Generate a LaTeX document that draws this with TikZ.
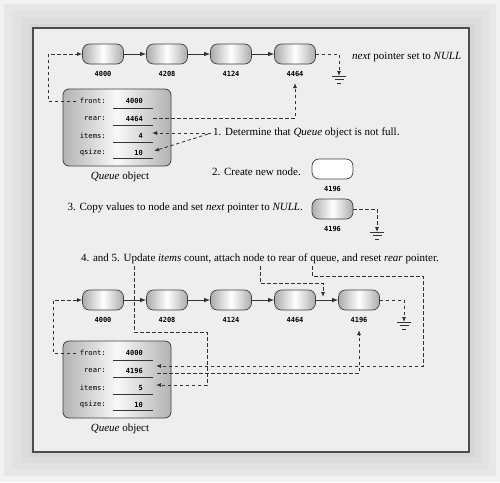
\documentclass[tikz,border=0pt]{standalone}
\usepackage{fontspec}
\setmainfont{Liberation Serif}
\newfontfamily\monof{DejaVu Sans Mono}
\usetikzlibrary{arrows.meta,calc}
\tikzset{
  cell/.style={draw=black!75, line width=0.7pt, rounded corners=7pt,
    minimum width=41pt, minimum height=20pt, inner sep=0pt,
    left color=gray!65, right color=gray!65, middle color=white},
  wcell/.style={cell, fill=white, left color=white, right color=white, middle color=white},
  qbox/.style={draw=black!75, line width=0.8pt, rounded corners=6pt,
    minimum width=108pt, minimum height=77pt, inner sep=0pt,
    left color=gray!60, right color=gray!60, middle color=gray!5},
  lbl/.style={font=\monof\fontsize{7.2}{8}\selectfont, inner sep=0pt},
  nlbl/.style={font=\monof\bfseries\fontsize{7}{8}\selectfont, inner sep=0pt},
  txt/.style={font=\fontsize{11}{13}\selectfont, inner sep=0pt},
  link/.style={-{Latex[length=6pt,width=4.5pt]}, line width=0.8pt, draw=black!80},
  dsh/.style={dash pattern=on 3.5pt off 2.5pt, line width=0.8pt, draw=black!80},
  darr/.style={dsh, -{Latex[length=5pt,width=4pt]}},
  uline/.style={line width=0.8pt, draw=black!80},
  gline/.style={line width=0.8pt, draw=black!80}
}
\begin{document}
\begin{tikzpicture}[x=1pt,y=-1pt]
\useasboundingbox (0,0) rectangle (500,482);
% background frame
\fill[gray!10] (0,0) rectangle (500,482);
\fill[gray!19] (4,4) rectangle (496,476);
\fill[gray!23] (12,10) rectangle (489,469);
\fill[gray!27] (21,17) rectangle (482,463);
\fill[gray!32] (29,24) rectangle (475,457);
\fill[gray!13] (33,28) rectangle (469,452);
\draw[gray!60!black, line width=1.1pt] (33,28) rectangle (469,452);

% ---------- top list ----------
\node[cell] (t1) at (103,54) {};
\node[cell] (t2) at (167,54) {};
\node[cell] (t3) at (231,54) {};
\node[cell] (t4) at (295,54) {};
\node[nlbl] (l1) at (103,74) {4000};
\node[nlbl] (l2) at (167,74) {4208};
\node[nlbl] (l3) at (231,74) {4124};
\node[nlbl] (l4) at (295,74) {4464};
\draw[link] (t1) -- (t2);
\draw[link] (t2) -- (t3);
\draw[link] (t3) -- (t4);
\coordinate (g1) at (339,76);
\draw[darr] (t4.east) -| (g1);
\draw[gline] ($(g1)+(-7,0)$) -- ($(g1)+(7,0)$);
\draw[gline] ($(g1)+(-4.5,3.5)$) -- ($(g1)+(4.5,3.5)$);
\draw[gline] ($(g1)+(-2,7)$) -- ($(g1)+(2,7)$);
\node[txt, anchor=west] (nx) at (352,57) {\emph{next} pointer set to \emph{NULL}};

% ---------- top queue object ----------
\node[qbox] (q1) at (117,127.5) {};
\node[lbl, anchor=east] (qf1) at (106,101) {front:};
\node[lbl, anchor=east] (qr1) at (106,119) {rear:};
\node[lbl, anchor=east] (qi1) at (106,136) {items:};
\node[lbl, anchor=east] (qs1) at (106,153) {qsize:};
\node[nlbl, anchor=east] (vf1) at (143,101) {4000};
\node[nlbl, anchor=east] (vr1) at (143,119) {4464};
\node[nlbl, anchor=east] (vi1) at (143,136) {4};
\node[nlbl, anchor=east] (vs1) at (143,153) {10};
\draw[uline] (113,108) -- (153,108);
\draw[uline] (113,125) -- (153,125);
\draw[uline] (113,142) -- (153,142);
\draw[uline] (113,158) -- (153,158);
\node[txt] (cap1) at (120,177) {\emph{Queue} object};

\coordinate (ff1) at (76,101);
\draw[darr] (ff1) -- ++(-28,0) |- (t1.west);
\coordinate (rr1) at (153,118);
\coordinate (ra1) at (295,83);
\draw[darr] (rr1) -| (ra1);

% ---------- step 1 ----------
\node[txt, anchor=west] (s1) at (213,133) {1. Determine that \emph{Queue} object is not full.};
\coordinate (s1a) at (211,133);
\coordinate (s1b) at (208,134);
\coordinate (ia1) at (152,133);
\coordinate (qa1) at (154,151);
\draw[darr] (s1a) -- (ia1);
\draw[darr] (s1b) -- (qa1);

% ---------- step 2 ----------
\node[txt, anchor=east] (s2) at (301,172) {2. Create new node.};
\node[wcell] (n2) at (332.5,169) {};
\node[nlbl] (ln2) at (332.5,189) {4196};

% ---------- step 3 ----------
\node[txt, anchor=east] (s3) at (303,208) {3. Copy values to node and set \emph{next} pointer to \emph{NULL}.};
\node[cell] (n3) at (332.5,209) {};
\node[nlbl] (ln3) at (332.5,229) {4196};
\coordinate (g2) at (377,232);
\draw[darr] (n3.east) -| (g2);
\draw[gline] ($(g2)+(-7,0)$) -- ($(g2)+(7,0)$);
\draw[gline] ($(g2)+(-4.5,3.5)$) -- ($(g2)+(4.5,3.5)$);
\draw[gline] ($(g2)+(-2,7)$) -- ($(g2)+(2,7)$);

% ---------- step 4 and 5 ----------
\node[txt, anchor=west] (s45) at (81,259) {4. and 5. Update \emph{items} count, attach node to rear of queue, and reset \emph{rear} pointer.};

% bottom list
\node[cell] (b1) at (103,300) {};
\node[cell] (b2) at (167,300) {};
\node[cell] (b3) at (231,300) {};
\node[cell] (b4) at (295,300) {};
\node[cell] (b5) at (359,300) {};
\node[nlbl] (m1) at (103,320) {4000};
\node[nlbl] (m2) at (167,320) {4208};
\node[nlbl] (m3) at (231,320) {4124};
\node[nlbl] (m4) at (295,320) {4464};
\node[nlbl] (m5) at (359,320) {4196};
\draw[link] (b1) -- (b2);
\draw[link] (b2) -- (b3);
\draw[link] (b3) -- (b4);
\draw[link] (b4) -- (b5);
\coordinate (g3) at (404,322);
\draw[darr] (b5.east) -| (g3);
\draw[gline] ($(g3)+(-7,0)$) -- ($(g3)+(7,0)$);
\draw[gline] ($(g3)+(-4.5,3.5)$) -- ($(g3)+(4.5,3.5)$);
\draw[gline] ($(g3)+(-2,7)$) -- ($(g3)+(2,7)$);

% bottom queue object
\node[qbox] (q2) at (117,379.5) {};
\node[lbl, anchor=east] (qf2) at (106,353) {front:};
\node[lbl, anchor=east] (qr2) at (106,371) {rear:};
\node[lbl, anchor=east] (qi2) at (106,388) {items:};
\node[lbl, anchor=east] (qs2) at (106,405) {qsize:};
\node[nlbl, anchor=east] (vf2) at (143,353) {4000};
\node[nlbl, anchor=east] (vr2) at (143,371) {4196};
\node[nlbl, anchor=east] (vi2) at (143,388) {5};
\node[nlbl, anchor=east] (vs2) at (143,405) {10};
\draw[uline] (113,360) -- (153,360);
\draw[uline] (113,377) -- (153,377);
\draw[uline] (113,394) -- (153,394);
\draw[uline] (113,410) -- (153,410);
\node[txt] (cap2) at (120,429) {\emph{Queue} object};

\coordinate (ff2) at (76,353);
\draw[darr] (ff2) -- ++(-23,0) |- (b1.west);
\coordinate (rr2) at (157,373);
\coordinate (rb) at (359,330);
\draw[darr] (rr2) -| (rb);

\coordinate (c1) at (134,266);
\coordinate (ia2) at (156,385);
\draw[darr] (c1) |- (207,332) |- (ia2);
\coordinate (c2) at (260,266);
\coordinate (ap) at (323,297);
\draw[darr] (c2) |- (323,283) -- (ap);
\coordinate (c3) at (312,266);
\coordinate (ra2) at (156,366);
\draw[darr] (c3) |- (423,276) |- (ra2);
\end{tikzpicture}
\end{document}
